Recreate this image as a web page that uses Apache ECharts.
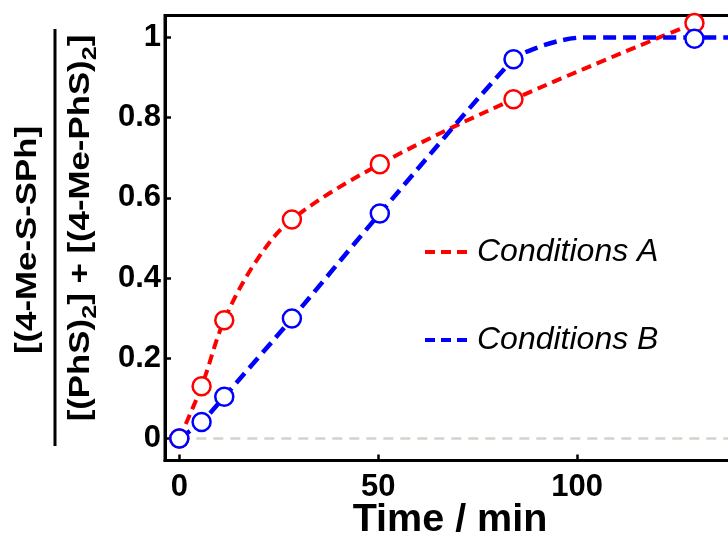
<!DOCTYPE html>
<html>
<head>
<meta charset="utf-8">
<script src="https://cdn.jsdelivr.net/npm/echarts@6/dist/echarts.min.js"></script>
<style>
html,body{margin:0;padding:0;background:#fff;}
#chart{width:728px;height:540px;}
</style>
</head>
<body>
<div id="chart"></div>
<script>
// ---- data ----
const markerTime = [0, 5.6, 11.3, 28.3, 50.4, 84, 129.5];
const condA = [0, 0.13, 0.295, 0.546, 0.684, 0.846, 1.036];
const condB = [0, 0.041, 0.104, 0.299, 0.561, 0.946, 0.997];

// fitted (dashed) curves
const fitATime = [0, 5.6, 11.3, 19.5, 28.3, 50.4, 84, 129.5];
const fitAValue = [0, 0.13, 0.295, 0.445, 0.546, 0.684, 0.846, 1.036];
const fitBTime = [0, 5.6, 11.3, 28.3, 50.4, 84, 90, 96, 101, 150];
const fitBValue = [0, 0.041, 0.104, 0.299, 0.561, 0.946, 0.975, 0.993, 1.0, 1.0];
const baseTime = [0, 150];
const baseValue = [0, 0];

const xTicks = [0, 50, 100];
const yTicks = [0, 0.2, 0.4, 0.6, 0.8, 1];
const seriesNames = ['Conditions A', 'Conditions B'];

const zip = (a, b) => a.map((v, i) => [v, b[i]]);
const FONT = '"Liberation Sans", Arial, sans-serif';

const chart = echarts.init(document.getElementById('chart'), null, {renderer: 'canvas'});
chart.setOption({
  animation: false,
  backgroundColor: '#fff',
  grid: {left: 165, top: 15.5, width: 611, height: 445, show: true, borderColor: '#000', borderWidth: 3,
    backgroundColor: 'transparent', containLabel: false, outerBoundsMode: 'none'},
  xAxis: {
    type: 'value', min: -3.6, max: 150,
    splitLine: {show: false},
    axisLine: {show: true, onZero: false, lineStyle: {color: '#000', width: 3}},
    axisTick: {show: true, inside: true, length: 6, customValues: xTicks, lineStyle: {color: '#000', width: 2.5}},
    axisLabel: {customValues: xTicks, color: '#000', fontFamily: FONT, fontSize: 31, fontWeight: 'bold', margin: 11}
  },
  yAxis: {
    type: 'value', min: -0.055, max: 1.055,
    splitLine: {show: false},
    axisLine: {show: true, onZero: false, lineStyle: {color: '#000', width: 3}},
    axisTick: {show: true, inside: true, length: 6, customValues: yTicks, lineStyle: {color: '#000', width: 2.5}},
    axisLabel: {customValues: yTicks, color: '#000', fontFamily: FONT, fontSize: 31, fontWeight: 'bold', margin: 4,
      formatter: v => String(v)}
  },
  legend: {
    data: seriesNames,
    orient: 'vertical', left: 423, top: 236, padding: 0,
    itemWidth: 45, itemHeight: 4, itemGap: 56,
    lineStyle: {type: [10, 6], width: 4},
    textStyle: {fontFamily: FONT, fontSize: 32, fontStyle: 'italic', color: '#000', padding: [0, 0, 0, 2]}
  },
  series: [
    {type: 'line', name: 'baseline', data: zip(baseTime, baseValue), showSymbol: false, symbol: 'none',
      lineStyle: {color: '#d6d2ca', width: 2.5, type: [10, 7]}, z: 1, silent: true},
    {type: 'line', name: seriesNames[0], data: zip(fitATime, fitAValue), smooth: 0.35, symbol: 'none',
      lineStyle: {color: '#ff0000', width: 4, type: [10, 6]}, itemStyle: {color: '#ff0000'}, z: 2},
    {type: 'line', name: seriesNames[1], data: zip(fitBTime, fitBValue), smooth: 0.25, symbol: 'none',
      lineStyle: {color: '#0000ff', width: 4.5, type: [13, 7]}, itemStyle: {color: '#0000ff'}, z: 3},
    {type: 'scatter', name: 'A points', data: zip(markerTime, condA), symbol: 'circle', symbolSize: 18,
      itemStyle: {color: '#fff', borderColor: '#ff0000', borderWidth: 2.5, opacity: 1}, z: 4},
    {type: 'scatter', name: 'B points', data: zip(markerTime, condB), symbol: 'circle', symbolSize: 18,
      itemStyle: {color: '#fff', borderColor: '#0000ff', borderWidth: 2.5, opacity: 1}, z: 5}
  ],
  graphic: [
    {type: 'text', x: 28, y: 240, rotation: Math.PI / 2, scaleX: 1.2,
      style: {text: '[(4-Me-S-SPh]', font: 'bold 29px ' + FONT, fill: '#000', align: 'center', verticalAlign: 'middle'}},
    {type: 'line', shape: {x1: 55, y1: 29, x2: 55, y2: 446}, style: {stroke: '#000', lineWidth: 3}},
    {type: 'text', x: 81, y: 228, rotation: Math.PI / 2, scaleX: 1.2,
      style: {text: '[(PhS){sub|2}] + [(4-Me-PhS){sub|2}]', font: 'bold 29px ' + FONT, fill: '#000', align: 'center', verticalAlign: 'middle',
        rich: {sub: {font: 'bold 21px ' + FONT, fill: '#000', padding: [18, 0, 0, 0]}}}},
    {type: 'text', x: 450, y: 521, scaleX: 1.04,
      style: {text: 'Time / min', font: 'bold 38px ' + FONT, fill: '#000', align: 'center', verticalAlign: 'middle'}}
  ]
});
</script>
</body>
</html>
